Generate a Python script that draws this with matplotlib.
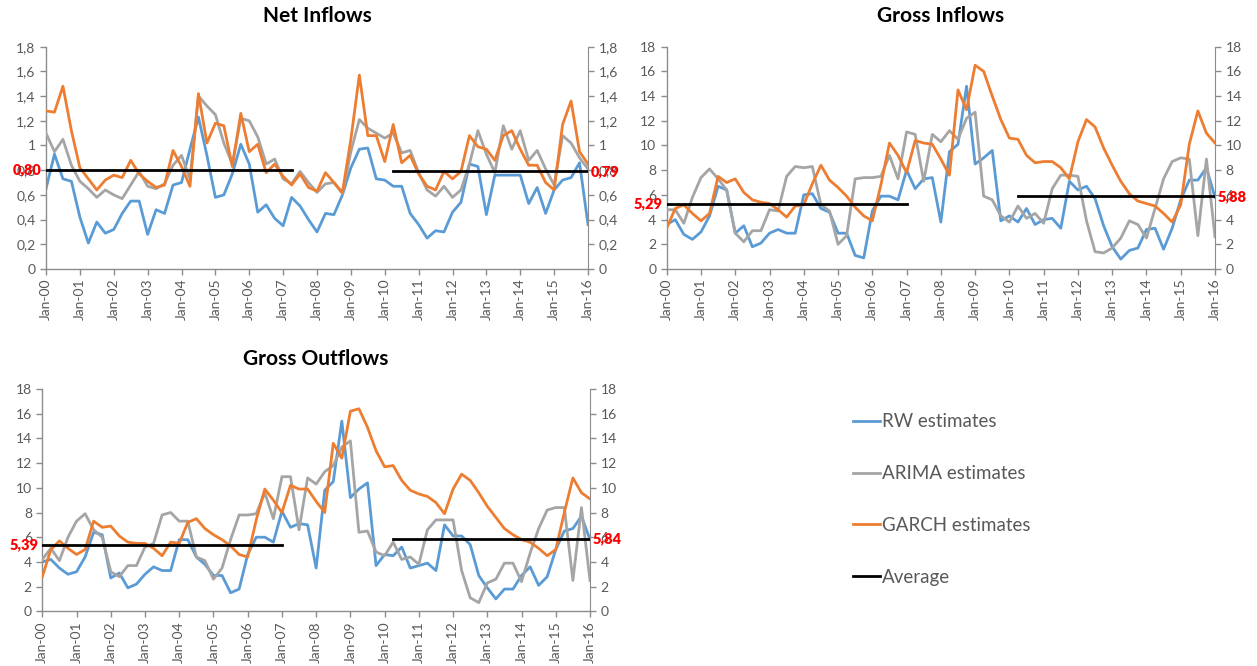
import matplotlib
matplotlib.use("Agg")
import matplotlib.pyplot as plt
from matplotlib.ticker import FuncFormatter, FixedLocator
from matplotlib.lines import Line2D
import numpy as np

plt.rcParams['font.family'] = ['Lato', 'DejaVu Sans']

# ---------------- data ----------------
years = [f"Jan-{y:02d}" for y in range(0, 17)]          # tick labels every 4 quarters
n_quarters = 65

net_rw = [0.65, 0.93, 0.73, 0.71, 0.42, 0.21, 0.38, 0.29, 0.32, 0.45, 0.55, 0.55, 0.28, 0.48, 0.45, 0.68,
          0.70, 0.97, 1.23, 0.92, 0.58, 0.60, 0.77, 1.01, 0.85, 0.46, 0.52, 0.41, 0.35, 0.58, 0.51, 0.40,
          0.30, 0.45, 0.44, 0.60, 0.82, 0.97, 0.98, 0.73, 0.72, 0.67, 0.67, 0.45, 0.36, 0.25, 0.31, 0.30,
          0.46, 0.54, 0.85, 0.83, 0.44, 0.76, 0.76, 0.76, 0.76, 0.53, 0.66, 0.45, 0.64, 0.72, 0.74, 0.86, 0.36]
net_arima = [1.10, 0.95, 1.05, 0.84, 0.71, 0.65, 0.58, 0.64, 0.60, 0.57, 0.68, 0.79, 0.67, 0.65, 0.69, 0.84,
             0.92, 0.73, 1.40, 1.32, 1.25, 1.02, 0.85, 1.22, 1.20, 1.07, 0.85, 0.89, 0.73, 0.69, 0.79, 0.70,
             0.62, 0.69, 0.70, 0.61, 0.95, 1.21, 1.14, 1.10, 1.06, 1.10, 0.94, 0.96, 0.78, 0.64, 0.59, 0.67,
             0.58, 0.64, 0.85, 1.12, 0.93, 0.78, 1.16, 0.97, 1.12, 0.88, 0.96, 0.81, 0.68, 1.08, 1.02, 0.90, 0.81]
net_garch = [1.28, 1.27, 1.48, 1.12, 0.82, 0.73, 0.64, 0.72, 0.76, 0.74, 0.88, 0.77, 0.71, 0.66, 0.68, 0.96,
             0.83, 0.67, 1.42, 1.02, 1.18, 1.16, 0.83, 1.26, 0.95, 1.01, 0.78, 0.85, 0.75, 0.68, 0.77, 0.66,
             0.63, 0.78, 0.70, 0.62, 1.05, 1.57, 1.08, 1.08, 0.87, 1.17, 0.86, 0.92, 0.77, 0.67, 0.64, 0.79,
             0.73, 0.79, 1.08, 0.99, 0.97, 0.88, 1.08, 1.12, 0.97, 0.84, 0.84, 0.70, 0.64, 1.17, 1.36, 0.95, 0.85]
net_avg = [0.80, 0.79]
net_avg_labels = ["0,80", "0,79"]

gin_rw = [3.6, 4.0, 2.8, 2.4, 3.0, 4.3, 6.7, 6.4, 2.9, 3.5, 1.8, 2.1, 2.9, 3.2, 2.9, 2.9,
          6.0, 6.1, 4.9, 4.6, 2.9, 2.9, 1.1, 0.9, 4.7, 5.9, 5.9, 5.6, 8.0, 6.5, 7.3, 7.4,
          3.8, 9.5, 10.1, 14.8, 8.5, 9.0, 9.6, 3.9, 4.3, 3.8, 4.9, 3.6, 4.0, 4.1, 3.3, 7.1,
          6.4, 6.7, 5.7, 3.5, 1.8, 0.8, 1.5, 1.7, 3.2, 3.3, 1.6, 3.3, 5.6, 7.2, 7.2, 8.2, 5.8]
gin_arima = [4.8, 4.8, 3.7, 5.8, 7.4, 8.1, 7.3, 6.4, 2.9, 2.2, 3.1, 3.1, 4.8, 4.7, 7.5, 8.3,
             8.2, 8.3, 5.2, 4.7, 2.0, 2.7, 7.3, 7.4, 7.4, 7.5, 9.2, 7.3, 11.1, 10.9, 7.1, 10.9,
             10.3, 11.2, 10.5, 12.2, 12.7, 5.9, 5.6, 4.3, 3.8, 5.1, 4.1, 4.5, 3.7, 6.5, 7.6, 7.6,
             7.5, 3.9, 1.4, 1.3, 1.7, 2.5, 3.9, 3.6, 2.5, 4.9, 7.3, 8.7, 9.0, 8.9, 2.7, 8.9, 2.6]
gin_garch = [3.3, 4.9, 5.2, 4.5, 3.9, 4.5, 7.5, 7.0, 7.3, 6.2, 5.6, 5.4, 5.3, 4.8, 4.2, 5.1,
             5.2, 6.9, 8.4, 7.2, 6.6, 5.9, 5.0, 4.3, 3.9, 6.8, 10.2, 9.2, 7.8, 10.4, 10.2, 10.1,
             8.9, 7.6, 14.5, 12.9, 16.5, 16.0, 14.0, 12.1, 10.6, 10.5, 9.2, 8.6, 8.7, 8.7, 8.2, 7.3,
             10.3, 12.1, 11.5, 9.8, 8.4, 7.1, 6.1, 5.5, 5.3, 5.1, 4.5, 3.8, 5.2, 10.1, 12.8, 11.0, 10.2]
gin_avg = [5.29, 5.88]
gin_avg_labels = ["5,29", "5,88"]

gout_rw = [4.0, 4.2, 3.5, 3.0, 3.2, 4.4, 6.4, 6.2, 2.7, 3.1, 1.9, 2.2, 3.0, 3.6, 3.3, 3.3,
           5.8, 5.8, 4.4, 3.8, 2.9, 2.9, 1.5, 1.8, 4.6, 6.0, 6.0, 5.6, 8.1, 6.8, 7.1, 7.0,
           3.5, 9.8, 10.5, 15.4, 9.2, 9.9, 10.4, 3.7, 4.6, 4.5, 5.2, 3.5, 3.7, 3.9, 3.3, 7.0,
           6.1, 6.1, 5.4, 2.9, 1.9, 1.0, 1.8, 1.8, 2.9, 3.6, 2.1, 2.8, 5.0, 6.5, 6.7, 7.7, 5.8]
gout_arima = [4.2, 5.1, 4.1, 6.0, 7.3, 7.9, 6.6, 6.0, 3.2, 2.8, 3.7, 3.7, 5.2, 5.5, 7.8, 8.0,
              7.3, 7.3, 4.4, 4.1, 2.6, 3.5, 5.8, 7.8, 7.8, 7.9, 9.6, 7.5, 10.9, 10.9, 6.6, 10.8,
              10.3, 11.3, 11.8, 13.3, 13.8, 6.4, 6.5, 4.8, 4.5, 5.6, 4.2, 4.4, 3.8, 6.6, 7.4, 7.4,
              7.4, 3.3, 1.1, 0.7, 2.3, 2.6, 3.9, 3.9, 2.4, 4.7, 6.7, 8.2, 8.4, 8.4, 2.5, 8.4, 2.5]
gout_garch = [2.8, 5.0, 5.7, 5.1, 4.6, 5.0, 7.3, 6.8, 6.9, 6.1, 5.6, 5.5, 5.5, 5.1, 4.5, 5.6,
              5.5, 7.2, 7.5, 6.7, 6.2, 5.8, 5.3, 4.6, 4.4, 7.4, 9.9, 9.0, 8.0, 10.2, 9.9, 9.9,
              8.9, 8.0, 13.6, 12.4, 16.2, 16.4, 14.9, 13.0, 11.7, 11.8, 10.6, 9.8, 9.5, 9.3, 8.8, 7.9,
              9.9, 11.1, 10.6, 9.6, 8.5, 7.6, 6.7, 6.2, 5.8, 5.6, 5.1, 4.5, 5.0, 8.0, 10.8, 9.6, 9.1]
gout_avg = [5.39, 5.84]
gout_avg_labels = ["5,39", "5,84"]

# averaging periods (quarter index start, end) for the two sub-samples
net_periods = [(0, 29), (41, 64)]
gin_periods = [(0, 28), (41, 64)]
gout_periods = [(0, 28), (41, 64)]

series_names = ["RW estimates", "ARIMA estimates", "GARCH estimates", "Average"]

# ---------------- style ----------------
C_BLUE = "#5B9BD5"
C_GRAY = "#A5A5A5"
C_ORANGE = "#ED7D31"
C_BLACK = "#000000"
AX_COL = "#8C8C8C"
TXT_COL = "#595959"

W, H = 1257, 666
fig = plt.figure(figsize=(W / 100, H / 100), dpi=100)


def px_axes(x0, y0, x1, y1):
    return fig.add_axes([x0 / W, 1 - y1 / H, (x1 - x0) / W, (y1 - y0) / H])


def fmt(v, pos):
    s = f"{v:g}"
    return s.replace(".", ",")


def panel(rect, title, rw, arima, garch, avg, avg_labels, periods, ymax, ystep):
    ax = px_axes(*rect)
    x = np.arange(n_quarters)
    ax.plot(x, rw, color=C_BLUE, lw=2.0, zorder=2)
    ax.plot(x, arima, color=C_GRAY, lw=2.0, zorder=3)
    ax.plot(x, garch, color=C_ORANGE, lw=2.0, zorder=4)
    for (s, e), v in zip(periods, avg):
        ax.plot([s, e], [v, v], color=C_BLACK, lw=2.0, zorder=5)
    ax.set_xlim(0, n_quarters - 1)
    ax.set_ylim(0, ymax)
    yt = np.arange(0, ymax + ystep / 2, ystep)
    ax.yaxis.set_major_locator(FixedLocator(yt))
    ax.yaxis.set_major_formatter(FuncFormatter(fmt))
    ax.xaxis.set_major_locator(FixedLocator(np.arange(0, n_quarters, 4)))
    ax.set_xticklabels(years, rotation=90)
    for sp in ["top", "right"]:
        ax.spines[sp].set_visible(False)
    for sp in ["left", "bottom"]:
        ax.spines[sp].set_color(AX_COL)
        ax.spines[sp].set_linewidth(1.0)
    ax.tick_params(axis="both", colors=AX_COL, labelcolor=TXT_COL, labelsize=10,
                   length=4, width=1.0, direction="out")
    ax.tick_params(axis="x", pad=3)
    ax2 = ax.twinx()
    ax2.set_ylim(0, ymax)
    ax2.yaxis.set_major_locator(FixedLocator(yt))
    ax2.yaxis.set_major_formatter(FuncFormatter(fmt))
    for sp in ["top", "left", "bottom"]:
        ax2.spines[sp].set_visible(False)
    ax2.spines["right"].set_color(AX_COL)
    ax2.tick_params(axis="y", colors=AX_COL, labelcolor=TXT_COL, labelsize=10,
                    length=4, width=1.0, direction="out")
    ax2.set_zorder(ax.get_zorder() - 1)
    ax.patch.set_visible(False)
    # avg labels
    ax.annotate(avg_labels[0], xy=(periods[0][0], avg[0]), xytext=(-3, 0),
                textcoords="offset points", ha="right", va="center",
                color="#FF0000", fontweight="heavy", fontsize=10.5, zorder=10,
                annotation_clip=False)
    ax.annotate(avg_labels[1], xy=(periods[1][1], avg[1]), xytext=(2, 0),
                textcoords="offset points", ha="left", va="center",
                color="#FF0000", fontweight="heavy", fontsize=10.5, zorder=10,
                annotation_clip=False)
    ax.set_title(title, fontsize=15, fontweight="bold", pad=17.5, color="#000000")
    return ax


panel((46, 46.7, 588, 269), "Net Inflows", net_rw, net_arima, net_garch,
      net_avg, net_avg_labels, net_periods, 1.8, 0.2)
panel((666.7, 46.7, 1215, 269), "Gross Inflows", gin_rw, gin_arima, gin_garch,
      gin_avg, gin_avg_labels, gin_periods, 18, 2)
panel((42.3, 389, 590, 611.3), "Gross Outflows", gout_rw, gout_arima, gout_garch,
      gout_avg, gout_avg_labels, gout_periods, 18, 2)

handles = [Line2D([], [], color=c, lw=2.0) for c in (C_BLUE, C_GRAY, C_ORANGE, C_BLACK)]
fig.legend(handles, series_names, loc="center left",
           bbox_to_anchor=(853 / W, 1 - 499.5 / H), frameon=False,
           fontsize=13.5, labelcolor=TXT_COL, handlelength=1.45, handletextpad=0.12,
           labelspacing=1.85, borderpad=0, borderaxespad=0)

fig.savefig("out.png", dpi=100)
